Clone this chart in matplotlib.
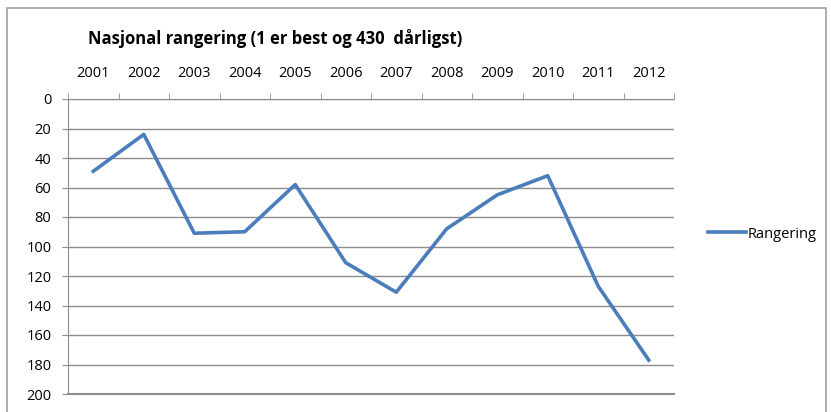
import matplotlib.pyplot as plt
from matplotlib.patches import Rectangle

# data
years = ["2001", "2002", "2003", "2004", "2005", "2006",
         "2007", "2008", "2009", "2010", "2011", "2012"]
rangering = [49, 24, 91, 90, 58, 111, 131, 88, 65, 52, 127, 177]
y_ticks = [0, 20, 40, 60, 80, 100, 120, 140, 160, 180, 200]

TITLE = "Nasjonal rangering (1 er best og 430  dårligst)"
LINE_COLOR = "#4A7EBB"
GRID_COLOR = "#8C8C8C"

plt.rcParams["font.family"] = ["Open Sans", "DejaVu Sans"]

fig = plt.figure(figsize=(8.31, 4.12), dpi=100)
ax = fig.add_axes([68 / 831, 1 - 394 / 412, (674 - 68) / 831, (394 - 99) / 412])

x = list(range(len(years)))
ax.plot(x, rangering, color=LINE_COLOR, linewidth=2.6, label="Rangering")

ax.set_xlim(-0.5, len(years) - 0.5)
ax.set_ylim(200, 0)
ax.set_yticks(y_ticks)
ax.set_yticklabels([str(v) for v in y_ticks], fontsize=10.5)

# category labels on top, tick marks between categories
ax.xaxis.tick_top()
ax.set_xticks(x)
ax.set_xticklabels(years, fontsize=10.5)
ax.tick_params(axis="x", which="major", length=0, pad=13)
ax.set_xticks([i - 0.5 for i in range(len(years) + 1)], minor=True)
ax.tick_params(axis="x", which="minor", length=4, color=GRID_COLOR, direction="out")
ax.tick_params(axis="y", length=4, color=GRID_COLOR, pad=8)

ax.grid(axis="y", color=GRID_COLOR, linewidth=1)
ax.set_axisbelow(True)
ax.spines["right"].set_visible(False)
for side in ["left", "top", "bottom"]:
    ax.spines[side].set_color(GRID_COLOR)
ax.spines["bottom"].set_linewidth(1.5)

fig.text(88 / 831, 1 - 38 / 412, TITLE, fontsize=12, fontweight="bold",
         va="center", ha="left")

fig.legend(loc="center left", bbox_to_anchor=(695 / 831, 1 - 234 / 412),
           frameon=False, fontsize=10.5, handlelength=2.6, handletextpad=0.1)

# outer chart border
fig.patches.append(Rectangle((7 / 831, -0.01), (826 - 7) / 831, 1 - 8 / 412 + 0.01,
                             transform=fig.transFigure, fill=False,
                             edgecolor="#A0A0A0", linewidth=1.2))

fig.savefig("out.png", dpi=100)
